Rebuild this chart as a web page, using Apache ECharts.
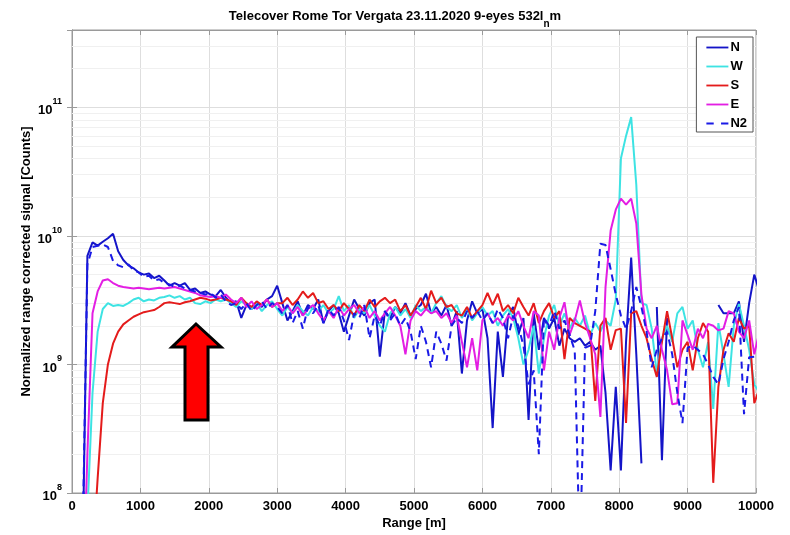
<!DOCTYPE html>
<html>
<head>
<meta charset="utf-8">
<script src="https://cdn.jsdelivr.net/npm/echarts@6/dist/echarts.min.js"></script>
<style>
  html, body { margin: 0; padding: 0; background: #ffffff; }
  #chart { width: 790px; height: 535px; }
</style>
</head>
<body>
<div id="chart"></div>
<script>
// Range bins [m]
const rangeM = [
  75, 150, 225, 300, 375, 450, 525, 600, 675, 750,
  825, 900, 975, 1050, 1125, 1200, 1275, 1350, 1425, 1500,
  1575, 1650, 1725, 1800, 1875, 1950, 2025, 2100, 2175, 2250,
  2325, 2400, 2475, 2550, 2625, 2700, 2775, 2850, 2925, 3000,
  3075, 3150, 3225, 3300, 3375, 3450, 3525, 3600, 3675, 3750,
  3825, 3900, 3975, 4050, 4125, 4200, 4275, 4350, 4425, 4500,
  4575, 4650, 4725, 4800, 4875, 4950, 5025, 5100, 5175, 5250,
  5325, 5400, 5475, 5550, 5625, 5700, 5775, 5850, 5925, 6000,
  6075, 6150, 6225, 6300, 6375, 6450, 6525, 6600, 6675, 6750,
  6825, 6900, 6975, 7050, 7125, 7200, 7275, 7350, 7425, 7500,
  7575, 7650, 7725, 7800, 7875, 7950, 8025, 8100, 8175, 8250,
  8325, 8400, 8475, 8550, 8625, 8700, 8775, 8850, 8925, 9000,
  9075, 9150, 9225, 9300, 9375, 9450, 9525, 9600, 9675, 9750,
  9825, 9900, 9975, 10050
];

// Normalized range corrected signal, in units of 1e9 counts (null = no valid sample)
const sigN = [
  0.001, 0.02, 7.0, 8.9, 8.4, 9.0, 9.6, 10.4, 7.6, 6.5,
  5.9, 5.6, 5.2, 5.0, 5.1, 4.7, 4.9, 4.5, 4.1, 4.3,
  4.1, 4.3, 3.8, 3.9, 3.6, 3.7, 3.5, 3.4, 3.8, 3.3,
  3.0, 3.1, 2.3, 2.9, 2.7, 3.0, 2.8, 3.2, 3.4, 4.1,
  3.0, 2.2, 2.6, 3.1, 2.4, 2.9, 2.7, 3.2, 2.1, 2.6,
  2.9, 2.5, 1.8, 2.4, 3.2, 2.7, 2.4, 3.0, 3.2, 1.15,
  2.6, 2.3, 2.8, 2.5, 3.0, 2.4, 2.7, 2.9, 3.55, 2.5,
  2.8, 2.4, 2.9, 2.0, 2.6, 0.85, 2.2, 3.1, 2.5, 2.7,
  1.6, 0.32, 1.8, 0.8, 2.4, 2.8, 1.7, 2.3, 0.37, 2.5,
  1.3, 2.3, 1.9, 2.3, 1.4, 1.9, 1.6, 1.5, 1.6, 1.4,
  1.5, 1.3, 1.4, 0.6, 0.15, 0.67, 0.15, 1.5, 6.8, 1.2,
  0.17, null, null, 2.8, 0.18, 2.3, null, null, null, null,
  null, null, null, null, null, 2.9, 2.5, 2.5, 2.5, 3.1,
  1.5, 3.0, 5.0, 3.7
];

const sigW = [
  0.001, 0.001, 0.07, 0.6, 1.8, 2.7, 3.0, 2.85, 2.9, 2.85,
  3.0, 3.2, 3.3, 3.1, 3.2, 3.15, 3.3, 3.35, 3.45, 3.3,
  3.4, 3.2, 3.3, 3.0, 2.95, 3.1, 3.0, 3.2, 3.1, 3.2,
  3.0, 2.8, 3.1, 2.9, 2.7, 3.0, 2.6, 2.9, 3.1, 2.7,
  2.4, 2.8, 2.5, 2.9, 2.6, 2.4, 2.8, 2.6, 2.9, 2.5,
  2.7, 3.4, 2.6, 2.9, 2.3, 2.7, 2.5, 2.9, 2.4, 2.0,
  1.8, 2.5, 2.8, 2.4, 2.7, 2.3, 2.9, 2.6, 2.8, 2.5,
  3.0, 3.4, 2.8, 2.6, 2.9, 2.3, 2.7, 2.2, 2.5, 2.8,
  2.4, 2.6, 2.0, 2.4, 2.7, 2.3, 1.6, 1.0, 1.3, 2.0,
  0.85, 1.6, 2.4, 2.9, 2.0, 2.5, 1.9, 2.3, 2.0, 2.4,
  1.7, 2.1, 1.8, 2.2, 2.0, 3.2, 40, 60, 84, 25,
  3.0, 2.9, 1.9, 0.85, 1.6, 2.0, 1.5, 2.5, 2.8, 1.9,
  2.2, 1.3, 0.95, 1.5, 0.45, 2.1, 1.2, 0.67, 2.0, 2.96,
  2.0, 1.3, 0.7, 0.6
];

const sigS = [
  0.001, 0.001, 0.001, 0.03, 0.13, 0.5, 1.0, 1.45, 1.8, 2.05,
  2.2, 2.35, 2.45, 2.55, 2.6, 2.65, 2.8, 3.0, 3.05, 3.0,
  2.95, 3.05, 3.1, 3.2, 3.3, 3.25, 3.15, 3.2, 3.3, 3.2,
  3.1, 2.9, 3.3, 3.0, 2.8, 3.1, 2.9, 3.2, 2.8, 3.0,
  3.0, 3.3, 2.9, 3.2, 3.7, 3.3, 3.6, 3.0, 3.1, 2.7,
  2.9, 2.6, 3.0, 2.7, 2.4, 2.9, 2.6, 3.2, 2.8, 3.1,
  3.3, 3.0, 3.2, 2.6, 2.9, 2.4, 2.8, 3.3, 2.7, 3.75,
  3.0, 3.3, 2.8, 2.9, 2.5, 2.4, 2.8, 2.3, 2.6, 2.9,
  3.6, 2.9, 3.55, 2.6, 2.9, 2.5, 3.3, 2.8, 2.4, 3.0,
  2.1, 2.6, 3.0, 2.3, 2.6, 1.1, 2.3, 2.1, 2.0, 1.9,
  1.8, 0.52, 2.0, 2.3, 1.3, 1.85, 1.9, 0.35, 2.5, 2.6,
  2.0, 1.6, 1.1, 0.8, 1.5, 2.6, 1.6, 0.95, 1.3, 1.5,
  0.9, 1.6, 2.1, 1.8, 0.12, 0.67, 1.3, 1.75, 1.5, 2.3,
  1.9, 2.0, 0.5, 0.65
];

const sigE = [
  0.001, 0.01, 0.2, 2.5, 3.7, 4.5, 4.6, 4.3, 4.1, 4.0,
  3.95, 3.9, 3.95, 3.9, 3.85, 3.9, 3.95, 3.9, 3.95, 4.0,
  3.9, 3.8, 3.7, 3.6, 3.45, 3.4, 3.35, 3.4, 3.3, 3.5,
  3.2, 3.0, 3.3, 2.8, 3.1, 2.7, 2.9, 3.2, 2.8, 3.0,
  2.6, 2.9, 2.5, 2.8, 2.4, 2.7, 2.9, 2.5, 2.2, 2.6,
  2.3, 2.8, 2.4, 2.7, 2.9, 2.5, 2.8, 2.3, 2.6, 2.2,
  2.5, 2.8, 2.4, 2.0, 1.2, 2.2, 2.6, 2.4, 2.7, 2.5,
  2.6, 2.3, 2.5, 2.1, 2.4, 1.5, 0.95, 1.6, 0.9, 2.2,
  2.5, 2.1, 2.3, 2.0, 2.4, 2.2, 2.6, 2.0, 1.6, 2.6,
  2.4, 0.9, 1.8, 1.3, 2.3, 3.05, 1.7, 2.2, 3.15, 2.1,
  1.6, 1.2, 0.39, 4.0, 11, 16, 19.5, 17.5, 19.5, 12.5,
  3.5, 1.9, 1.6, 2.0, 1.3, 0.9, 0.49, 0.5, 2.2, 1.7,
  1.3, 1.9, 1.6, 2.07, 2.0, 1.84, 1.9, 2.6, 2.5, 1.8,
  1.6, 2.2, 1.2, 1.8
];

const sigN2 = [
  0.001, 0.03, 6.0, 8.2, 8.4, 8.6, 8.2, 6.4, 5.9, 5.7,
  6.0, 5.4, 5.2, 4.8, 4.9, 4.5, 4.6, 4.3, 4.2, 4.0,
  4.1, 3.9, 3.8, 3.7, 3.6, 3.5, 3.6, 3.3, 3.5, 3.1,
  2.9, 3.0, 2.7, 3.0, 2.6, 2.9, 3.1, 2.7, 3.0, 2.8,
  2.5, 2.9, 2.1, 2.6, 1.9, 2.8, 2.5, 2.9, 2.1, 2.7,
  2.4, 2.8, 2.2, 1.55, 2.5, 2.3, 2.9, 1.6, 2.4, 2.0,
  2.6, 2.2, 2.5, 2.0, 2.3, 1.8, 1.1, 2.0, 1.5, 0.95,
  1.8, 1.45, 1.07, 2.0, 2.3, 2.1, 2.6, 2.3, 2.6, 2.2,
  2.5, 2.1, 2.7, 2.3, 1.6, 2.4, 2.0, 1.4, 0.7, 0.9,
  0.2, 2.3, 2.0, 2.6, 1.9, 2.2, 1.7, 1.28, 0.03, 1.35,
  1.4, 2.6, 8.7, 8.5, 5.5, 3.5, 2.4, 1.9, 2.6, 4.0,
  2.8, 1.8, 0.95, 1.3, 1.6, 1.8, 1.2, 0.6, 0.35, 1.35,
  1.4, 1.3, 1.2, 1.0, 0.8, 0.7, 1.1, 1.5, 2.2, 2.8,
  0.41, 1.14, 1.15, 1.2
];

const seriesNames = ['N', 'W', 'S', 'E', 'N2'];
const seriesColors = ['#1414c8', '#3de3e3', '#e41b1b', '#e31ee3', '#1a1ae6'];
const xTicks = { min: 0, max: 10000, step: 1000 };
const yDecades = [8, 9, 10, 11];
const yMax = 4e11;

const FONT = "'Liberation Sans', Arial, Helvetica, sans-serif";
const GRID_MAJOR = '#dedede';
const GRID_MINOR = '#f0f0f0';
const AXIS_COLOR = '#9a9a9a';

// Legend swatches: a solid bar, or two dashes for the dashed series
const ICON_SOLID = 'path://M0,0h24v2h-24z';
const ICON_DASHED = 'path://M0,0h8v2h-8z M16,0h8v2h-8z';

function toPairs(values) {
  return rangeM.map((r, i) => [r, values[i] == null ? '-' : values[i] * 1e9]);
}

// Minor log grid lines at 2..9 x 10^n
const minorLevels = [];
for (let d = yDecades[0]; d <= yDecades[yDecades.length - 1]; d++) {
  for (let m = 2; m <= 9; m++) {
    const v = m * Math.pow(10, d);
    if (v < yMax) minorLevels.push({ yAxis: v });
  }
}

const chart = echarts.init(document.getElementById('chart'), null, { renderer: 'canvas' });

const dataSets = [sigN, sigW, sigS, sigE, sigN2];
const series = dataSets.map((vals, i) => ({
  name: seriesNames[i],
  type: 'line',
  data: toPairs(vals),
  showSymbol: false,
  symbol: 'none',
  z: 3,
  clip: true,
  connectNulls: false,
  lineStyle: {
    color: seriesColors[i],
    width: 2,
    type: seriesNames[i] === 'N2' ? [7, 5] : 'solid'
  },
  itemStyle: { color: seriesColors[i] },
  emphasis: { disabled: true }
}));

series[0].markLine = {
  silent: true,
  z: 1,
  symbol: ['none', 'none'],
  label: { show: false },
  lineStyle: { color: GRID_MINOR, width: 1, type: 'solid' },
  emphasis: { disabled: true },
  animation: false,
  data: minorLevels
};

function decadeLabel(value) {
  const e = Math.log10(value);
  const r = Math.round(e);
  if (Math.abs(e - r) > 1e-6) return '';
  return '{b|10}{s|' + r + '}';
}

const option = {
  backgroundColor: '#ffffff',
  animation: false,
  textStyle: { fontFamily: FONT },
  title: {
    text: '{a|Telecover Rome Tor Vergata 23.11.2020 9-eyes 532l}{s|n}{a|m}',
    left: 'center',
    top: 5,
    textStyle: {
      rich: {
        a: { fontFamily: FONT, fontSize: 13, fontWeight: 'bold', color: '#000', lineHeight: 16, verticalAlign: 'top' },
        s: { fontFamily: FONT, fontSize: 10, fontWeight: 'bold', color: '#000', lineHeight: 19, verticalAlign: 'bottom' }
      }
    }
  },
  legend: {
    data: seriesNames.map((n) => ({ name: n, icon: n === 'N2' ? ICON_DASHED : ICON_SOLID })),
    orient: 'vertical',
    right: 37,
    top: 37,
    itemWidth: 22,
    itemHeight: 2,
    itemGap: 4,
    padding: [3, 6, 1, 10],
    backgroundColor: '#ffffff',
    borderColor: '#555555',
    borderWidth: 1,
    selectedMode: false,
    textStyle: { fontFamily: FONT, fontSize: 13, fontWeight: 'bold', color: '#000', lineHeight: 15, padding: [0, 0, 0, -3] }
  },
  grid: {
    left: 72,
    right: 34,
    top: 30,
    bottom: 42,
    show: true,
    borderColor: AXIS_COLOR,
    borderWidth: 1,
    backgroundColor: '#ffffff',
    outerBoundsMode: 'none'
  },
  xAxis: [{
    type: 'value',
    min: xTicks.min,
    max: xTicks.max,
    interval: xTicks.step,
    name: 'Range [m]',
    nameLocation: 'middle',
    nameGap: 24,
    nameMoveOverlap: false,
    nameTextStyle: { fontFamily: FONT, fontSize: 13, fontWeight: 'bold', color: '#000' },
    axisLine: { show: true, lineStyle: { color: AXIS_COLOR } },
    axisTick: { show: true, inside: true, length: 5, lineStyle: { color: AXIS_COLOR } },
    axisLabel: { fontFamily: FONT, fontSize: 13, fontWeight: 'bold', color: '#000', margin: 7, formatter: (v) => String(v) },
    splitLine: { show: true, lineStyle: { color: GRID_MAJOR, width: 1 } }
  }, {
    type: 'value',
    position: 'top',
    min: xTicks.min,
    max: xTicks.max,
    interval: xTicks.step,
    axisLine: { show: true, lineStyle: { color: AXIS_COLOR } },
    axisTick: { show: true, inside: true, length: 5, lineStyle: { color: AXIS_COLOR } },
    axisLabel: { show: false },
    splitLine: { show: false }
  }],
  yAxis: [{
    type: 'log',
    logBase: 10,
    min: Math.pow(10, yDecades[0]),
    max: yMax,
    name: 'Normalized range corrected signal [Counts]',
    nameLocation: 'middle',
    nameGap: 39,
    nameMoveOverlap: false,
    nameRotate: 90,
    nameTextStyle: { fontFamily: FONT, fontSize: 13, fontWeight: 'bold', color: '#000' },
    axisLine: { show: true, lineStyle: { color: AXIS_COLOR } },
    axisTick: { show: true, inside: true, length: 5, lineStyle: { color: AXIS_COLOR } },
    axisLabel: {
      margin: 10,
      formatter: decadeLabel,
      rich: {
        b: { fontFamily: FONT, fontSize: 13, fontWeight: 'bold', color: '#000', lineHeight: 20, verticalAlign: 'bottom' },
        s: { fontFamily: FONT, fontSize: 9, fontWeight: 'bold', color: '#000', lineHeight: 10, verticalAlign: 'top' }
      }
    },
    splitLine: { show: true, lineStyle: { color: GRID_MAJOR, width: 1 } }
  }, {
    type: 'log',
    logBase: 10,
    position: 'right',
    min: Math.pow(10, yDecades[0]),
    max: yMax,
    axisLine: { show: true, lineStyle: { color: AXIS_COLOR } },
    axisTick: { show: true, inside: true, length: 5, lineStyle: { color: AXIS_COLOR } },
    axisLabel: { show: false },
    splitLine: { show: false }
  }],
  series: series,
  graphic: [{
    type: 'polygon',
    z: 100,
    shape: {
      points: [[196, 324], [221, 347], [208, 347], [208, 420], [185, 420], [185, 347], [172, 347]]
    },
    style: { fill: '#ff0000', stroke: '#000000', lineWidth: 3, lineJoin: 'miter' }
  }]
};

chart.setOption(option);
</script>
</body>
</html>
